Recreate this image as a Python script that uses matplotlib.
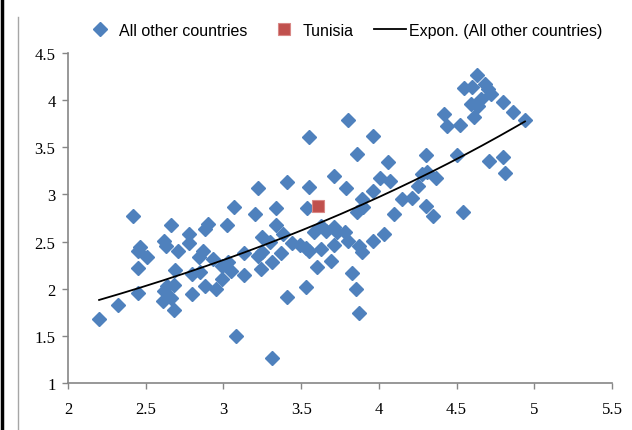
import numpy as np
import matplotlib.pyplot as plt
from matplotlib.lines import Line2D

# scatter data: all other countries
other_x = [2.20, 2.32, 2.42, 2.46, 2.45, 2.51, 2.45, 2.45, 2.62, 2.63,
           2.66, 2.71, 2.69, 2.64, 2.68, 2.62, 2.61, 2.66, 2.68, 2.78,
           2.78, 2.80, 2.80, 2.85, 2.84, 2.87, 2.88, 2.88,
           2.90, 2.93, 2.95, 2.99, 2.99, 3.02, 3.03, 3.05, 3.07, 3.08,
           3.13, 3.13, 3.20, 3.22, 3.22, 3.24, 3.25, 3.25, 3.30, 3.31,
           3.31, 3.34, 3.34, 3.37, 3.38, 3.41, 3.41, 3.44, 3.49, 3.53,
           3.53, 3.54, 3.55, 3.55, 3.55, 3.58, 3.60,
           3.63, 3.63, 3.66, 3.69, 3.71, 3.71, 3.71, 3.73, 3.78, 3.79,
           3.80, 3.80, 3.83, 3.85, 3.86, 3.86, 3.87, 3.87, 3.89, 3.89,
           3.90, 3.96, 3.96, 3.96, 4.01, 4.03, 4.06, 4.07, 4.10, 4.15,
           4.21, 4.25, 4.28, 4.30, 4.31, 4.30, 4.35, 4.37,
           4.42, 4.44, 4.52, 4.50, 4.54, 4.55, 4.59, 4.60, 4.61, 4.63,
           4.64, 4.66, 4.68, 4.70, 4.72, 4.71, 4.80, 4.81, 4.80, 4.86,
           4.94]
other_y = [1.68, 1.83, 2.77, 2.44, 2.40, 2.34, 2.22, 1.95, 2.51, 2.45,
           2.68, 2.40, 2.20, 2.03, 2.04, 1.98, 1.87, 1.90, 1.77, 2.58,
           2.48, 1.94, 2.16, 2.18, 2.34, 2.40, 2.63, 2.03,
           2.69, 2.31, 2.00, 2.24, 2.10, 2.68, 2.28, 2.19, 2.87, 1.50,
           2.38, 2.15, 2.79, 3.07, 2.35, 2.21, 2.55, 2.39, 2.50, 2.28,
           1.27, 2.86, 2.68, 2.38, 2.58, 3.13, 1.91, 2.48, 2.46, 2.43,
           2.02, 2.86, 3.61, 3.08, 2.40, 2.60, 2.23,
           2.66, 2.42, 2.61, 2.29, 2.65, 3.20, 2.46, 2.60, 2.60, 3.07,
           2.51, 3.79, 2.17, 2.00, 3.43, 2.81, 1.74, 2.45, 2.95, 2.39,
           2.87, 3.62, 2.51, 3.04, 3.17, 2.58, 3.34, 3.14, 2.79, 2.95,
           2.96, 3.09, 3.22, 3.42, 3.24, 2.88, 2.77, 3.17,
           3.85, 3.73, 3.74, 3.42, 2.81, 4.13, 3.96, 4.14, 3.82, 4.27,
           3.94, 4.01, 4.17, 4.12, 4.06, 3.35, 3.40, 3.23, 3.98, 3.87,
           3.79]

tunisia_x = [3.61]
tunisia_y = [2.88]

blue = '#4F81BD'
red = '#C0504D'
grey = '#868686'

# exponential trend line (least squares on log y)
b, ln_a = np.polyfit(other_x, np.log(other_y), 1)
trend_x = np.linspace(min(other_x), max(other_x), 200)
trend_y = np.exp(ln_a) * np.exp(b * trend_x)

fig = plt.figure(figsize=(6.32, 4.31), dpi=100)
ax = fig.add_axes([0.1076, 0.109, 0.8608, 0.766])

ax.plot(other_x, other_y, linestyle='none', marker='D', markersize=7,
        color=blue, markeredgecolor=blue, label='All other countries', zorder=2)
ax.plot(tunisia_x, tunisia_y, linestyle='none', marker='s', markersize=9,
        color=red, markeredgecolor='#D98886', markeredgewidth=0.8,
        label='Tunisia', zorder=3)
ax.plot(trend_x, trend_y, color='black', linewidth=1.3,
        label='Expon. (All other countries)', zorder=4)

ax.set_xlim(2, 5.5)
ax.set_ylim(1, 4.5)
ax.set_xticks(np.arange(2, 5.51, 0.5))
ax.set_yticks(np.arange(1, 4.51, 0.5))
ax.set_xticklabels(['2', '2.5', '3', '3.5', '4', '4.5', '5', '5.5'])
ax.set_yticklabels(['1', '1.5', '2', '2.5', '3', '3.5', '4', '4.5'])

for side in ['top', 'right']:
    ax.spines[side].set_visible(False)
for side in ['left', 'bottom']:
    ax.spines[side].set_color(grey)
    ax.spines[side].set_linewidth(1.2)
ax.tick_params(direction='out', length=4, width=1, color=grey,
               labelsize=12, pad=5)
for lab in ax.get_xticklabels() + ax.get_yticklabels():
    lab.set_family(['Liberation Serif', 'DejaVu Serif'])
ax.xaxis.set_tick_params(pad=9)

leg = fig.legend(loc='center', bbox_to_anchor=(0.543, 0.928), ncol=3,
                 frameon=False, numpoints=1, handlelength=2.0,
                 handletextpad=0.2, columnspacing=1.25,
                 prop={'family': ['Liberation Sans', 'DejaVu Sans'],
                       'size': 11.5})

# outer frame lines at the left edge
fig.add_artist(Line2D([0.003, 0.003], [0, 1], color='black', linewidth=2.5))
fig.add_artist(Line2D([0.0285, 0.0285], [0, 0.958], color='#A6A6A6', linewidth=1))

fig.savefig('out.png', dpi=100)
